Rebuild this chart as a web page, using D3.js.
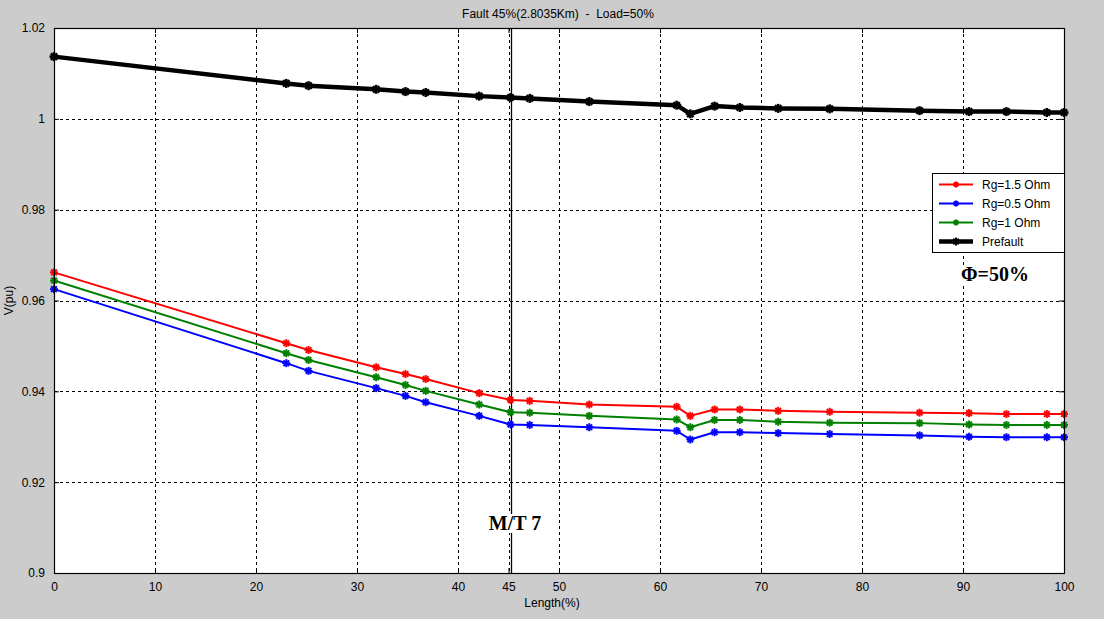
<!DOCTYPE html>
<html>
<head>
<meta charset="utf-8">
<script src="https://cdn.jsdelivr.net/npm/d3@7"></script>
<style>
  body { margin: 0; background: #cccccc; }
  svg { display: block; }
</style>
</head>
<body>
<div id="chart"></div>
<script>
// length along feeder (%) for every measured point
var lengths = [0, 23, 25.2, 31.9, 34.8, 36.8, 42.1, 45.2, 47.1, 53, 61.65, 63, 65.4, 67.9, 71.7, 76.8, 85.7, 90.6, 94.3, 98.3, 100];

var rg15 = [0.9662, 0.9506, 0.9491, 0.9453, 0.9438, 0.9427, 0.9396, 0.9381, 0.9379, 0.9371, 0.9366, 0.9346, 0.9360, 0.9360, 0.9357, 0.9355, 0.9353, 0.9352, 0.9350, 0.9350, 0.9350];
var rg05 = [0.9625, 0.9462, 0.9445, 0.9407, 0.9390, 0.9376, 0.9346, 0.9327, 0.9326, 0.9321, 0.9313, 0.9294, 0.9310, 0.9310, 0.9308, 0.9306, 0.9303, 0.9300, 0.9299, 0.9299, 0.9299];
var rg1 = [0.9644, 0.9484, 0.9469, 0.9431, 0.9414, 0.9401, 0.9371, 0.9354, 0.9353, 0.9346, 0.9338, 0.9321, 0.9337, 0.9337, 0.9333, 0.9331, 0.9330, 0.9327, 0.9326, 0.9326, 0.9326];
var prefault = [1.0137, 1.0078, 1.0073, 1.0065, 1.0060, 1.0058, 1.0050, 1.0047, 1.0045, 1.0038, 1.0030, 1.0011, 1.0028, 1.0025, 1.0023, 1.0022, 1.0018, 1.0016, 1.0016, 1.0014, 1.0014];

var seriesNames = ["Rg=1.5 Ohm", "Rg=0.5 Ohm", "Rg=1 Ohm", "Prefault"];
var seriesColors = ["#ff0000", "#0000ff", "#008000", "#000000"];
var seriesWidths = [2, 2, 2, 4.5];

var xTicks = [0, 10, 20, 30, 40, 45, 50, 60, 70, 80, 90, 100];
var yTicks = [0.9, 0.92, 0.94, 0.96, 0.98, 1, 1.02];
var markerX = 45.2;

var W = 1104, H = 619;
var mLeft = 54, mRight = 1064, mTop = 28, mBottom = 573;
var sans = "'Liberation Sans', Arial, sans-serif";
var serif = "'Liberation Serif', 'Times New Roman', serif";

var svg = d3.select("#chart").append("svg")
  .attr("width", W)
  .attr("height", H);

svg.append("rect").attr("width", W).attr("height", H).attr("fill", "#cccccc");

var x = d3.scaleLinear().domain([0, 100]).range([mLeft, mRight]);
var y = d3.scaleLinear().domain([0.9, 1.02]).range([mBottom, mTop]);

// plot background
svg.append("rect")
  .attr("x", mLeft).attr("y", mTop)
  .attr("width", mRight - mLeft).attr("height", mBottom - mTop)
  .attr("fill", "#fff");

// grid lines
var grid = svg.append("g");
grid.selectAll(".gx").data(xTicks.filter(function(d) { return d > 0 && d < 100; }))
  .enter().append("line")
  .attr("x1", function(d) { return Math.round(x(d)) + 0.5; })
  .attr("x2", function(d) { return Math.round(x(d)) + 0.5; })
  .attr("y1", mTop).attr("y2", mBottom)
  .attr("stroke", "#000").attr("stroke-width", 1).attr("stroke-dasharray", "3,3");
grid.selectAll(".gy").data(yTicks.filter(function(d) { return d > 0.9 && d < 1.02; }))
  .enter().append("line")
  .attr("y1", function(d) { return Math.round(y(d)) + 0.5; })
  .attr("y2", function(d) { return Math.round(y(d)) + 0.5; })
  .attr("x1", mLeft).attr("x2", mRight)
  .attr("stroke", "#000").attr("stroke-width", 1).attr("stroke-dasharray", "3,3");

// vertical marker at the fault point
svg.append("line")
  .attr("x1", Math.round(x(markerX)) + 0.5).attr("x2", Math.round(x(markerX)) + 0.5)
  .attr("y1", mTop).attr("y2", mBottom)
  .attr("stroke", "#000").attr("stroke-width", 1.3);

// axes
var xAxisB = d3.axisBottom(x).tickValues(xTicks).tickSizeInner(-5).tickSizeOuter(0).tickPadding(9);
var xAxisT = d3.axisTop(x).tickValues(xTicks).tickSizeInner(-5).tickSizeOuter(0).tickFormat("");
var yAxisL = d3.axisLeft(y).tickValues(yTicks).tickSizeInner(-5).tickSizeOuter(0).tickPadding(9)
  .tickFormat(function(d) { return String(+d.toFixed(2)); });
var yAxisR = d3.axisRight(y).tickValues(yTicks).tickSizeInner(-5).tickSizeOuter(0).tickFormat("");

function styleAxis(g) {
  g.select(".domain").remove();
  g.selectAll("line").attr("stroke", "#000");
  g.selectAll("text").attr("font-size", 12).attr("font-family", sans).attr("fill", "#000");
}
svg.append("g").attr("transform", "translate(0," + mBottom + ")").call(xAxisB).call(styleAxis);
svg.append("g").attr("transform", "translate(0," + mTop + ")").call(xAxisT).call(styleAxis);
svg.append("g").attr("transform", "translate(" + mLeft + ",0)").call(yAxisL).call(styleAxis);
svg.append("g").attr("transform", "translate(" + mRight + ",0)").call(yAxisR).call(styleAxis);

// series
var allSeries = [rg15, rg05, rg1, prefault];
var line = d3.line()
  .x(function(d) { return x(d[0]); })
  .y(function(d) { return y(d[1]); });

function asterisk(g, cx, cy, r, color, w) {
  [0, 45, 90, 135].forEach(function(a) {
    var rad = a * Math.PI / 180;
    g.append("line")
      .attr("x1", cx - r * Math.cos(rad)).attr("y1", cy - r * Math.sin(rad))
      .attr("x2", cx + r * Math.cos(rad)).attr("y2", cy + r * Math.sin(rad))
      .attr("stroke", color).attr("stroke-width", w);
  });
}

allSeries.forEach(function(vals, i) {
  var pts = lengths.map(function(l, j) { return [l, vals[j]]; });
  var g = svg.append("g");
  g.append("path")
    .datum(pts)
    .attr("d", line)
    .attr("fill", "none")
    .attr("stroke", seriesColors[i])
    .attr("stroke-width", seriesWidths[i])
    .attr("stroke-linejoin", "round");
  pts.forEach(function(p) {
    asterisk(g, x(p[0]), y(p[1]), i === 3 ? 4.5 : 4, seriesColors[i], i === 3 ? 2.5 : 2);
  });
});

// frame
svg.append("rect")
  .attr("x", mLeft + 0.5).attr("y", mTop + 0.5)
  .attr("width", mRight - mLeft).attr("height", mBottom - mTop)
  .attr("fill", "none").attr("stroke", "#000").attr("stroke-width", 1.2);

// title and axis labels
svg.append("text")
  .attr("x", 558).attr("y", 18)
  .attr("text-anchor", "middle")
  .attr("font-family", sans)
  .attr("font-size", 12)
  .style("white-space", "pre")
  .text("Fault 45%(2.8035Km)  -  Load=50%");

svg.append("text")
  .attr("x", 552).attr("y", 607)
  .attr("text-anchor", "middle")
  .attr("font-family", sans)
  .attr("font-size", 12)
  .text("Length(%)");

svg.append("text")
  .attr("transform", "translate(13," + ((mTop + mBottom) / 2) + ") rotate(-90)")
  .attr("text-anchor", "middle")
  .attr("font-family", sans)
  .attr("font-size", 12)
  .text("V(pu)");

// annotations
function boxedLabel(txt, cx, by) {
  var t = svg.append("text")
    .attr("x", cx).attr("y", by)
    .attr("text-anchor", "middle")
    .attr("font-family", serif)
    .attr("font-weight", "bold")
    .attr("font-size", 20)
    .text(txt);
  var b = t.node().getBBox();
  svg.insert("rect", function() { return t.node(); })
    .attr("x", b.x - 1).attr("y", b.y + 2)
    .attr("width", b.width + 2).attr("height", b.height - 3)
    .attr("fill", "#fff");
}
boxedLabel("M/T 7", 515, 530);
boxedLabel("\u03A6=50%", 995, 281);

// legend
var lg = svg.append("g").attr("transform", "translate(932,173)");
lg.append("rect")
  .attr("x", 0.5).attr("y", 0.5)
  .attr("width", 132).attr("height", 79)
  .attr("fill", "#fff").attr("stroke", "#000").attr("stroke-width", 1);
seriesNames.forEach(function(name, i) {
  var yy = 11.5 + i * 19;
  lg.append("line")
    .attr("x1", 7).attr("x2", 41)
    .attr("y1", yy).attr("y2", yy)
    .attr("stroke", seriesColors[i]).attr("stroke-width", seriesWidths[i]);
  asterisk(lg, 24, yy, i === 3 ? 4 : 3, seriesColors[i], 2);
  lg.append("text")
    .attr("x", 50).attr("y", yy + 4)
    .attr("font-family", sans)
    .attr("font-size", 12)
    .text(name);
});
</script>
</body>
</html>
